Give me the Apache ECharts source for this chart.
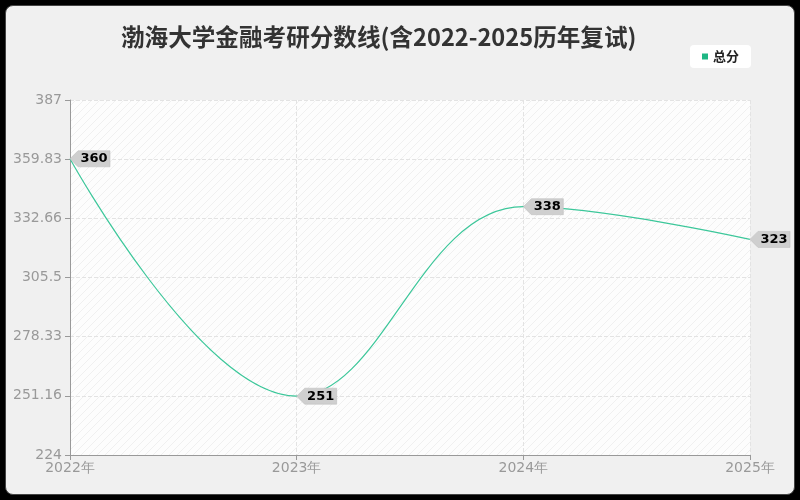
<!DOCTYPE html>
<html>
<head>
<meta charset="utf-8">
<script src="https://cdn.jsdelivr.net/npm/echarts@6/dist/echarts.min.js"></script>
<style>
  html, body { margin: 0; padding: 0; background: #000; }
  #card { position: absolute; left: 5px; top: 5px; width: 788px; height: 488px;
          background: #f0f0f0; border: 1px solid #444; border-radius: 8px; }
  #main { position: absolute; left: 0; top: 0; width: 800px; height: 500px; }
</style>
</head>
<body>
<div id="card"></div>
<div id="main"></div>
<script>
// 数据
var years = ['2022年', '2023年', '2024年', '2025年'];
var scores = [360, 251, 338, 323];
var yTicks = [224, 251.16, 278.33, 305.5, 332.66, 359.83, 387];

// 网格背景的斜线纹理
function hatch() {
  var c = document.createElement('canvas');
  c.width = 8; c.height = 8;
  var ctx = c.getContext('2d');
  ctx.fillStyle = '#fdfdfd';
  ctx.fillRect(0, 0, 8, 8);
  ctx.strokeStyle = '#f0f0f0';
  ctx.lineWidth = 1;
  ctx.beginPath();
  ctx.moveTo(0, 8); ctx.lineTo(8, 0);
  ctx.moveTo(-4, 4); ctx.lineTo(4, -4);
  ctx.moveTo(4, 12); ctx.lineTo(12, 4);
  ctx.stroke();
  return c;
}

var myChart = echarts.init(document.getElementById('main'));

var tagData = scores.map(function (v, i) {
  return { coord: [i, v], value: v };
});

var option = {
  backgroundColor: 'transparent',
  title: {
    text: '渤海大学金融考研分数线(含2022-2025历年复试)',
    left: 116,
    top: 20,
    textStyle: { fontSize: 23.6, fontWeight: 'bold', color: '#333', fontFamily: 'Noto Sans CJK SC' }
  },
  legend: {
    data: ['总分'],
    right: 49,
    top: 45,
    backgroundColor: '#fff',
    borderRadius: 4,
    padding: [5, 12],
    icon: 'rect',
    itemWidth: 6,
    itemHeight: 6,
    itemGap: 5,
    textStyle: { fontSize: 13, fontWeight: 'bold', color: '#222', fontFamily: 'Noto Sans CJK SC' }
  },
  grid: {
    left: 70,
    right: 50,
    top: 100,
    bottom: 45,
    show: true,
    borderWidth: 0,
    backgroundColor: { image: hatch(), repeat: 'repeat' }
  },
  xAxis: {
    type: 'category',
    data: years,
    boundaryGap: false,
    axisLine: { lineStyle: { color: '#999' } },
    axisTick: { show: true, lineStyle: { color: '#999' } },
    axisLabel: { color: '#999', fontSize: 14, margin: 6, fontFamily: 'DejaVu Sans' },
    splitLine: { show: true, lineStyle: { type: 'dashed', color: '#e3e3e3' } }
  },
  yAxis: {
    type: 'value',
    min: 224,
    max: 387,
    axisLine: { show: true, lineStyle: { color: '#999' } },
    axisTick: { show: true, customValues: yTicks, lineStyle: { color: '#999' } },
    axisLabel: { color: '#999', fontSize: 14, margin: 8, customValues: yTicks, fontFamily: 'DejaVu Sans',
      formatter: function (v) { return String(v); } },
    splitLine: { show: true, lineStyle: { type: 'dashed', color: '#e3e3e3' } }
  },
  series: [{
    name: '总分',
    type: 'line',
    data: scores,
    smooth: 0.4,
    showSymbol: false,
    itemStyle: { color: '#1fb784' },
    lineStyle: { color: '#3cc79a', width: 1.2 },
    markPoint: {
      symbol: 'path://M0,8 L8,0 L40,0 L40,16 L8,16 Z',
      symbolSize: [40, 16],
      symbolOffset: ['50%', 0],
      itemStyle: { color: '#cfcfcf', borderColor: '#bdbdbd', borderWidth: 0.5 },
      label: {
        show: true,
        position: 'inside',
        offset: [4, 0],
        color: '#000',
        fontSize: 13,
        fontWeight: 'bold',
        fontFamily: 'DejaVu Sans',
        formatter: '{c}'
      },
      data: tagData
    }
  }]
};

myChart.setOption(option);
</script>
</body>
</html>
